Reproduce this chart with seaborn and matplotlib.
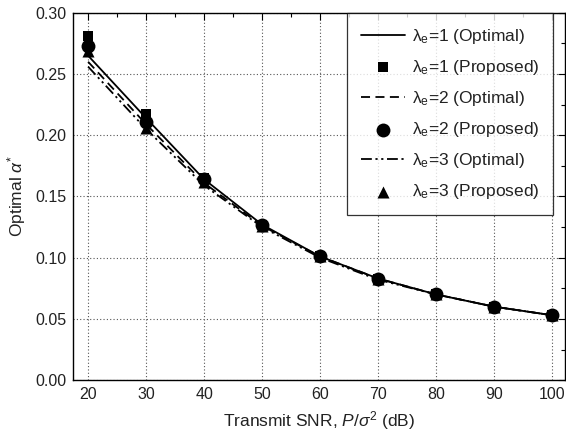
import matplotlib
matplotlib.use("Agg")
import matplotlib.pyplot as plt
import seaborn as sns
import pandas as pd
from matplotlib.ticker import MultipleLocator

snr = [20, 30, 40, 50, 60, 70, 80, 90, 100]
opt1 = [0.265, 0.214, 0.164, 0.127, 0.101, 0.083, 0.070, 0.060, 0.053]
opt2 = [0.260, 0.209, 0.161, 0.126, 0.101, 0.083, 0.070, 0.060, 0.053]
opt3 = [0.256, 0.205, 0.159, 0.125, 0.100, 0.082, 0.070, 0.060, 0.053]
prop1 = [0.281, 0.217, 0.165, 0.127, 0.101, 0.083, 0.070, 0.060, 0.053]
prop2 = [0.273, 0.211, 0.164, 0.127, 0.101, 0.083, 0.070, 0.060, 0.053]
prop3 = [0.269, 0.206, 0.162, 0.126, 0.101, 0.083, 0.070, 0.060, 0.053]
labels_opt = ["λ$_\\mathrm{e}$=1 (Optimal)", "λ$_\\mathrm{e}$=2 (Optimal)", "λ$_\\mathrm{e}$=3 (Optimal)"]
labels_prop = ["λ$_\\mathrm{e}$=1 (Proposed)", "λ$_\\mathrm{e}$=2 (Proposed)", "λ$_\\mathrm{e}$=3 (Proposed)"]

sns.set_theme(style="white")
plt.rcParams['font.family'] = ['Liberation Sans', 'DejaVu Sans']
plt.rcParams['mathtext.fontset'] = 'custom'
plt.rcParams['mathtext.rm'] = 'Liberation Sans'
plt.rcParams['mathtext.it'] = 'Liberation Sans:italic'
plt.rcParams['mathtext.bf'] = 'Liberation Sans:bold'

fig = plt.figure(figsize=(5.66, 4.41), dpi=100)
ax = fig.add_axes([0.129, 0.138, 0.869, 0.833])

linestyles = ['-', (0, (5, 3)), (0, (6, 2, 1.2, 2, 1.2, 2))]
markers = ['s', 'o', '^']
sizes = [50, 100, 75]
zorders = [4, 6, 5]
opts = [opt1, opt2, opt3]
props = [prop1, prop2, prop3]
for i in range(3):
    df_o = pd.DataFrame({'x': snr, 'y': opts[i]})
    df_p = pd.DataFrame({'x': snr, 'y': props[i]})
    sns.lineplot(data=df_o, x='x', y='y', ax=ax, color='black', lw=1.3,
                 linestyle=linestyles[i], label=labels_opt[i], zorder=3)
    sns.scatterplot(data=df_p, x='x', y='y', ax=ax, color='black', marker=markers[i],
                    s=sizes[i], edgecolor='black', linewidth=0, label=labels_prop[i],
                    zorder=zorders[i])

ax.set_xlim(17.4, 102.2)
ax.set_ylim(0, 0.30)
ax.xaxis.set_major_locator(MultipleLocator(10))
ax.xaxis.set_minor_locator(MultipleLocator(5))
ax.yaxis.set_major_locator(MultipleLocator(0.05))
ax.yaxis.set_minor_locator(MultipleLocator(0.025))
ax.yaxis.set_major_formatter(matplotlib.ticker.FormatStrFormatter('%.2f'))
ax.tick_params(which='both', direction='in', top=True, right=True, colors='black',
               labelsize=11.5, labelcolor='#222222')
ax.tick_params(which='major', length=5, width=0.8, pad=5)
ax.tick_params(which='minor', length=3, width=0.8)
ax.grid(True, which='major', linestyle=(0, (1, 2)), color='#555555', linewidth=0.8)
for s in ax.spines.values():
    s.set_color('black')
    s.set_linewidth(1.0)

ax.set_xlabel(r"Transmit SNR, $P/\sigma^2$ (dB)", fontsize=12.5, color='#222222', labelpad=5)
ax.set_ylabel(r"Optimal $\alpha^{*}$", fontsize=12.5, color='#222222', labelpad=5)

h, l = ax.get_legend_handles_labels()
leg = ax.legend(h, l, loc='upper right', bbox_to_anchor=(0.976, 1.0), borderaxespad=0,
                fontsize=12.5, frameon=True, fancybox=False, edgecolor='black',
                handlelength=2.5, handletextpad=0.4, labelspacing=0.7, borderpad=0.8,
                markerscale=1.0)
leg.get_frame().set_linewidth(0.9)
for t in leg.get_texts():
    t.set_color('#222222')

fig.savefig("out.png", dpi=100)
